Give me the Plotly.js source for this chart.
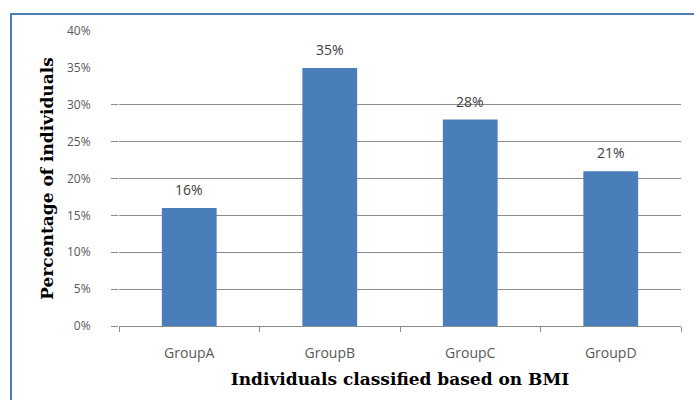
<!DOCTYPE html>
<html>
<head>
<meta charset="utf-8">
<script src="https://cdn.plot.ly/plotly-3.0.1.min.js"></script>
<style>
  html, body { margin: 0; padding: 0; background: #ffffff; overflow: hidden; }
  #frame { position: absolute; left: 10px; top: 13px; width: 720px; height: 420px;
           border-top: 2px solid #4a7ebb; border-left: 2px solid #4a7ebb; }
  #chart { position: absolute; left: 0; top: 0; width: 694px; height: 400px; }
</style>
</head>
<body>
<div id="frame"></div>
<div id="chart"></div>
<script>
const categories = ["GroupA", "GroupB", "GroupC", "GroupD"];
const percentages = [16, 35, 28, 21];
const gridTicks = [0, 5, 10, 15, 20, 25, 30];
const upperTicks = [35, 40];
const xTitle = "Individuals classified based on BMI";
const yTitle = "Percentage of individuals";

const sans = "Open Sans, DejaVu Sans, sans-serif";
const yTickFont = { family: sans, size: 12, color: "#595959" };
const xTickFont = { family: sans, size: 14, color: "#595959" };
const titleFont = { family: "DejaVu Serif, Liberation Serif, serif", size: 17, color: "#000000" };

const data = [{
  type: "bar",
  x: categories,
  y: percentages,
  marker: { color: "#4a7ebb" },
  width: 0.39,
  hoverinfo: "none",
  showlegend: false
}, {
  type: "scatter",
  x: [categories[0]],
  y: [upperTicks[0]],
  yaxis: "y2",
  mode: "markers",
  marker: { opacity: 0 },
  hoverinfo: "none",
  showlegend: false
}];

const annotations = categories.map((c, i) => ({
  x: c,
  y: percentages[i],
  xref: "x",
  yref: "y",
  text: percentages[i] + "%",
  showarrow: false,
  yanchor: "bottom",
  yshift: 7,
  font: { family: sans, size: 14, color: "#404040" }
}));

const layout = {
  width: 694,
  height: 400,
  margin: { l: 119, r: 13, t: 31, b: 74 },
  paper_bgcolor: "rgba(0,0,0,0)",
  plot_bgcolor: "rgba(0,0,0,0)",
  annotations: annotations,
  xaxis: {
    type: "category",
    showgrid: false,
    showline: true,
    linecolor: "#8c8c8c",
    linewidth: 1,
    ticks: "outside",
    tickson: "boundaries",
    ticklen: 5,
    tickcolor: "#8c8c8c",
    tickfont: xTickFont,
    ticklabelstandoff: 14,
    title: { text: "<b>" + xTitle + "</b>", font: titleFont, standoff: 12 },
    fixedrange: true
  },
  yaxis: {
    range: [0, 40],
    tickmode: "array",
    tickvals: gridTicks,
    ticktext: gridTicks.map(v => v + "%"),
    showgrid: true,
    gridcolor: "#8c8c8c",
    gridwidth: 1,
    zeroline: false,
    showline: false,
    ticks: "outside",
    ticklen: 7,
    tickcolor: "#8c8c8c",
    tickfont: yTickFont,
    ticklabelstandoff: 18,
    title: { text: "<b>" + yTitle + "</b>", font: titleFont, standoff: 8 },
    fixedrange: true
  },
  yaxis2: {
    overlaying: "y",
    side: "left",
    range: [0, 40],
    tickmode: "array",
    tickvals: upperTicks,
    ticktext: upperTicks.map(v => v + "%"),
    showgrid: false,
    zeroline: false,
    showline: false,
    ticks: "outside",
    ticklen: 7,
    tickcolor: "rgba(0,0,0,0)",
    tickfont: yTickFont,
    ticklabelstandoff: 18,
    fixedrange: true
  }
};

Plotly.newPlot("chart", data, layout, { displayModeBar: false, staticPlot: true });
</script>
</body>
</html>
